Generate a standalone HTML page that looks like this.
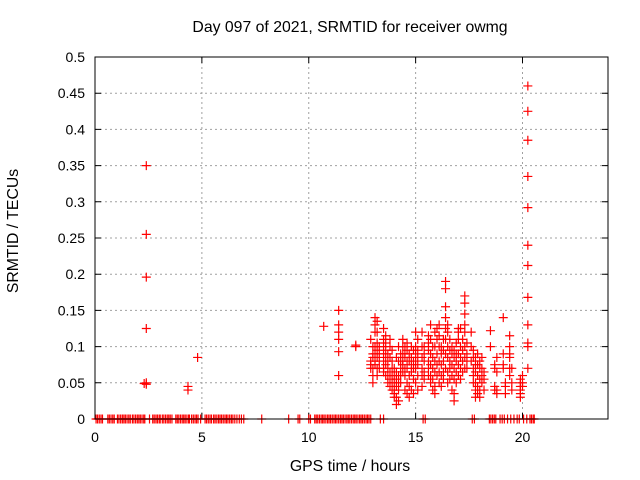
<!DOCTYPE html>
<html><head><meta charset="utf-8"><style>
html,body{margin:0;padding:0;background:#fff;width:640px;height:480px;overflow:hidden}
svg text{font-family:"Liberation Sans",sans-serif;font-size:14px;fill:#000}
svg text.big{font-size:15.8px}
</style></head><body>
<svg id="chart" width="640" height="480" viewBox="0 0 640 480" xmlns="http://www.w3.org/2000/svg">
<rect width="640" height="480" fill="#fff"/>
<text class="big" x="350" y="32" text-anchor="middle">Day 097 of 2021, SRMTID for receiver owmg</text>
<text class="big" x="350" y="471" text-anchor="middle">GPS time / hours</text>
<text class="big" x="18" y="231" text-anchor="middle" transform="rotate(-90 18 231)">SRMTID / TECUs</text>
<g id="grid"></g><g id="ticks"></g><g id="marks"></g>
<rect x="95" y="57" width="513" height="362" fill="none" stroke="#000" stroke-width="1"/>
</svg>
<script>
const xTicks=[0,5,10,15,20];
const xTickLabels=["0","5","10","15","20"];
const yTicks=[0,0.05,0.1,0.15,0.2,0.25,0.3,0.35,0.4,0.45,0.5];
const yTickLabels=["0","0.05","0.1","0.15","0.2","0.25","0.3","0.35","0.4","0.45","0.5"];
const zeroTimes=[0.05,0.12,0.2,0.28,0.35,0.6,0.67,0.75,0.83,0.9,1.05,1.12,1.2,1.28,1.35,1.42,1.5,1.58,1.65,1.75,1.82,1.9,1.98,2.05,2.12,2.2,2.28,2.33,2.55,2.7,2.77,2.85,2.92,3.0,3.05,3.15,3.22,3.3,3.38,3.45,3.52,3.6,3.78,3.85,3.92,4.0,4.08,4.15,4.22,4.3,4.38,4.42,4.52,4.6,4.68,4.75,4.82,4.94,5.15,5.22,5.3,5.38,5.45,5.55,5.62,5.7,5.78,5.85,5.92,6.0,6.08,6.15,6.22,6.3,6.38,6.45,6.54,6.64,6.75,6.85,6.96,7.8,9.06,9.5,9.58,10.0,10.08,10.28,10.35,10.42,10.5,10.58,10.65,10.72,10.8,10.88,10.95,11.02,11.1,11.18,11.25,11.32,11.4,11.48,11.55,11.62,11.7,11.78,11.85,11.92,12.0,12.08,12.15,12.22,12.3,12.38,12.45,12.52,12.6,12.68,12.75,12.82,12.9,13.35,13.5,15.35,15.45,17.65,17.75,18.45,18.52,18.6,18.68,18.75,18.95,19.05,19.15,19.3,19.45,19.6,19.75,19.85,20.05,20.2,20.35,20.42,20.5,20.55];
const cluster=[[2.4,[0.35,0.255,0.196,0.125,0.05,0.048]],[2.3,[0.049]],[4.35,[0.045,0.04]],[4.8,[0.085]],[10.7,[0.128]],[11.4,[0.15,0.13,0.12,0.11,0.093,0.06]],[12.2,[0.1,0.102]],
[12.9,[0.08,0.075,0.07,0.11]],[13.0,[0.09,0.085,0.07,0.06,0.05,0.1]],[13.1,[0.14,0.13,0.12,0.1,0.09,0.08,0.075]],[13.2,[0.135,0.12,0.105,0.095,0.085,0.07,0.06]],[13.3,[0.1,0.09,0.08,0.07]],[13.5,[0.125,0.11,0.1,0.09,0.08,0.07,0.065]],[13.6,[0.115,0.105,0.095,0.085,0.075,0.06]],[13.7,[0.09,0.08,0.07,0.06,0.05]],[13.8,[0.11,0.1,0.085,0.065,0.055,0.045]],[13.9,[0.095,0.08,0.07,0.06,0.05,0.04]],[14.0,[0.07,0.06,0.05,0.04,0.035,0.03]],[14.1,[0.085,0.065,0.055,0.045,0.03,0.02]],[14.2,[0.1,0.08,0.06,0.05,0.04,0.025]],[14.3,[0.09,0.08,0.07,0.06,0.05]],[14.4,[0.11,0.1,0.09,0.08,0.075,0.065]],[14.5,[0.1,0.09,0.085,0.07,0.06,0.04]],[14.6,[0.105,0.095,0.08,0.07,0.05,0.035]],[14.7,[0.09,0.08,0.06,0.045,0.03]],[14.8,[0.1,0.085,0.075,0.065,0.04]],[14.9,[0.095,0.08,0.07,0.055,0.035]],[15.0,[0.12,0.1,0.09,0.08,0.07,0.05]],[15.1,[0.11,0.095,0.085,0.075,0.06,0.04]],[15.3,[0.12,0.1,0.085,0.07,0.06,0.045]],[15.4,[0.1,0.09,0.08,0.065,0.055]],[15.6,[0.115,0.105,0.095,0.08,0.07,0.06]],[15.7,[0.13,0.11,0.09,0.075,0.06,0.05]],[15.8,[0.1,0.085,0.07,0.055,0.04]],[15.9,[0.12,0.1,0.08,0.065,0.045,0.035]],[16.0,[0.125,0.11,0.09,0.075,0.06]],[16.1,[0.13,0.115,0.1,0.08,0.065,0.05]],[16.2,[0.1,0.09,0.075,0.06,0.045]],[16.3,[0.11,0.095,0.08,0.065,0.055]],[16.4,[0.19,0.18,0.155,0.14,0.125,0.11,0.09,0.07]],[16.5,[0.13,0.12,0.1,0.085,0.065,0.05]],[16.6,[0.11,0.095,0.08,0.07,0.055]],[16.7,[0.1,0.09,0.075,0.06,0.04]],[16.8,[0.095,0.085,0.07,0.055,0.035,0.025]],[16.9,[0.105,0.09,0.08,0.065,0.05]],[17.0,[0.125,0.12,0.11,0.09,0.075,0.06]],[17.1,[0.125,0.1,0.085,0.07,0.055]],[17.2,[0.11,0.095,0.08,0.065]],[17.3,[0.17,0.16,0.145,0.13,0.12,0.1,0.085,0.07]],[17.4,[0.105,0.09,0.08,0.07]],[17.6,[0.12,0.1,0.08]],[17.7,[0.095,0.085,0.07,0.06,0.05]],[17.8,[0.085,0.075,0.065,0.05,0.04,0.03]],[17.9,[0.09,0.075,0.06,0.045,0.035]],[18.0,[0.08,0.07,0.055,0.04,0.03]],[18.1,[0.085,0.07,0.06,0.05]],[18.2,[0.065,0.055,0.04]],[18.5,[0.122,0.1]],[18.7,[0.075,0.07,0.045,0.04]],[18.8,[0.085,0.065,0.04,0.035]],[19.1,[0.14,0.09,0.075,0.07]],[19.2,[0.05,0.045,0.035]],[19.4,[0.115,0.1,0.09,0.085,0.07,0.06]],[19.5,[0.07,0.05,0.04]],[19.9,[0.055,0.05,0.045,0.04,0.035,0.03]],[20.0,[0.06,0.05,0.045]],
[20.25,[0.46,0.425,0.385,0.335,0.292,0.24,0.212,0.168,0.13,0.105,0.1,0.07]]];
const X0=95,X1=608,Y0=419,Y1=57,XMAX=24,YMAX=0.5;
function sx(v){return X0+(X1-X0)*v/XMAX;}
function sy(v){return Y0-(Y0-Y1)*v/YMAX;}
const NS="http://www.w3.org/2000/svg";
const grid=document.getElementById('grid'),ticks=document.getElementById('ticks'),marks=document.getElementById('marks');
function mk(tag,attrs,parent){const e=document.createElementNS(NS,tag);for(const k in attrs)e.setAttribute(k,attrs[k]);parent.appendChild(e);return e;}
xTicks.forEach((t,i)=>{
  const x=sx(t);
  if(t>0){const g=mk('line',{x1:x,y1:Y0,x2:x,y2:Y1,stroke:'#a0a0a0','stroke-dasharray':'2,3'},grid);
  
  }
  const tk=mk('path',{d:`M${x},${Y0}v-6M${x},${Y1}v6`,stroke:'#000'},ticks);
  
  
  const l=mk('text',{x:x,y:Y0+23,'text-anchor':'middle'},ticks);l.textContent=xTickLabels[i];
  
  
});
yTicks.forEach((t,i)=>{
  const y=sy(t);
  if(t>0&&t<0.5){const g=mk('line',{x1:X0,y1:y,x2:X1,y2:y,stroke:'#a0a0a0','stroke-dasharray':'2,3'},grid);
  
  }
  const tk=mk('path',{d:`M${X0},${y}h6M${X1},${y}h-6`,stroke:'#000'},ticks);
  
  
  const l=mk('text',{x:X0-10,y:y+5,'text-anchor':'end'},ticks);l.textContent=yTickLabels[i];
  
  
});
function plus(xv,yv){
  const x=sx(xv),y=sy(yv);
  const p=mk('path',{d:`M${x-4.5},${y}h9M${x},${y-4.5}v9`,stroke:'#ff0000','stroke-width':'1.2'},marks);
  
  
}
zeroTimes.forEach(t=>plus(t,0));
cluster.forEach(c=>c[1].forEach(v=>plus(c[0],v)));
</script>
</body></html>
